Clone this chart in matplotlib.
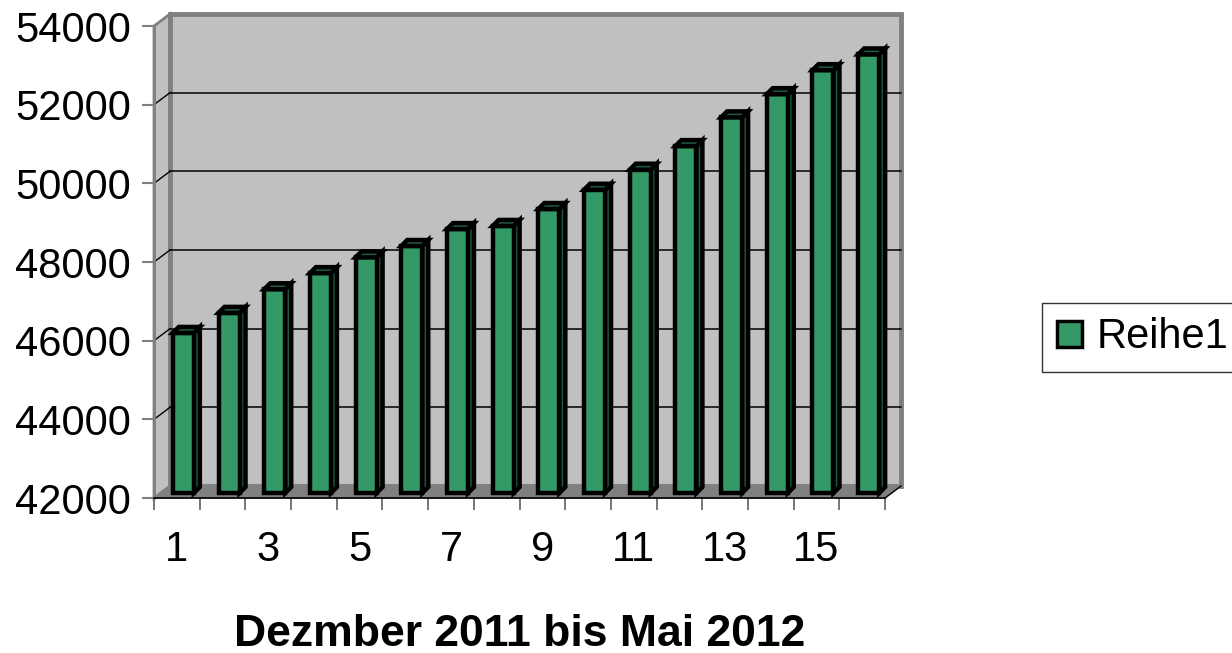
import matplotlib
matplotlib.use('Agg')
import matplotlib.pyplot as plt
from matplotlib.patches import Polygon, Rectangle
import numpy as np

# ---- data ----
categories = list(range(1, 17))
values = [46070, 46580, 47180, 47590, 47990, 48280, 48710, 48790,
          49220, 49710, 50220, 50820, 51550, 52140, 52750, 53150]
x_tick_labels = ['1', '3', '5', '7', '9', '11', '13', '15']
x_tick_pos = [1, 3, 5, 7, 9, 11, 13, 15]
y_ticks = [42000, 44000, 46000, 48000, 50000, 52000, 54000]
series_name = 'Reihe1'
x_title = 'Dezmber 2011 bis Mai 2012'

# ---- style ----
GREEN = '#339966'
SIDE = '#1f5a3c'
TOP = '#1f5a3c'
WALL = '#C0C0C0'
FLOOR = '#808080'
BORDER = '#808080'
BACK_OFF = (16, 12)     # pixel depth offset of back wall
BAR_OFF = (6.5, 5)      # pixel offset of bar front plane
BAR_DEPTH = (6, 6)      # pixel depth of bars
BAR_W = 0.46
FS = 30

plt.rcParams['font.family'] = ['Liberation Sans', 'DejaVu Sans']

W, H = 1232, 653
fig = plt.figure(figsize=(W / 100, H / 100), dpi=100)
fig.patch.set_facecolor('white')
ax = fig.add_axes([154 / W, 1 - 498 / H, (885 - 154) / W, (498 - 26) / H])
ax.set_xlim(0.5, len(categories) + 0.5)
ax.set_ylim(y_ticks[0], y_ticks[-1])
ax.patch.set_visible(False)
for s in ax.spines.values():
    s.set_visible(False)

inv = ax.transData.inverted()


def shifted(points, off):
    disp = ax.transData.transform(np.asarray(points, dtype=float))
    disp = disp + np.asarray(off, dtype=float)
    return inv.transform(disp)


x0, x1 = ax.get_xlim()
y0, y1 = ax.get_ylim()

# left wall
left_front = [(x0, y0), (x0, y1)]
left_back = shifted(left_front, BACK_OFF)
ax.add_patch(Polygon([left_front[0], left_front[1], left_back[1], left_back[0]],
                     closed=True, fc=WALL, ec=BORDER, lw=2, zorder=1, clip_on=False))
# back wall
back = shifted([(x0, y0), (x1, y0), (x1, y1), (x0, y1)], BACK_OFF)
ax.add_patch(Polygon(back, closed=True, fc=WALL, ec=BORDER, lw=3.5,
                     joinstyle='miter', zorder=1, clip_on=False))
# floor
fl_front = [(x0, y0), (x1, y0)]
fl_back = shifted(fl_front, BACK_OFF)
ax.add_patch(Polygon([fl_front[0], fl_front[1], fl_back[1], fl_back[0]],
                     closed=True, fc=FLOOR, ec=FLOOR, lw=1, zorder=1.5, clip_on=False))
# gridlines
for yv in y_ticks[1:-1]:
    b = shifted([(x0, yv), (x1, yv)], BACK_OFF)
    ax.plot(b[:, 0], b[:, 1], color='#000000', lw=1.1, zorder=1.2, clip_on=False)
    d = shifted([(x0, yv)], BACK_OFF)[0]
    ax.plot([x0, d[0]], [yv, d[1]], color='#000000', lw=1, zorder=1.2, clip_on=False)

# front axes lines
ax.plot([x0, x0], [y0, y1], color=BORDER, lw=2, zorder=3, clip_on=False)
ax.plot([x0, x1], [y0, y0], color='#000000', lw=1.2, zorder=3, clip_on=False)
rb = shifted([(x1, y0)], BACK_OFF)[0]
ax.plot([x1, rb[0]], [y0, rb[1]], color='#000000', lw=1, zorder=3, clip_on=False)

# bars
for c, v in zip(categories, values):
    fr = shifted([(c - BAR_W / 2, y0), (c + BAR_W / 2, y0),
                  (c + BAR_W / 2, v), (c - BAR_W / 2, v)], BAR_OFF)
    bk = shifted(fr, BAR_DEPTH)
    side = [fr[1], fr[2], bk[2], bk[1]]
    top = [fr[3], fr[2], bk[2], bk[3]]
    ax.add_patch(Polygon(side, closed=True, fc=SIDE, ec='black', lw=3.2,
                         joinstyle='miter', zorder=4, clip_on=False))
    ax.add_patch(Polygon(fr, closed=True, fc=GREEN, ec='black', lw=3.2,
                         joinstyle='miter', zorder=5, clip_on=False))
    ax.add_patch(Polygon(top, closed=True, fc=TOP, ec='black', lw=3.2,
                         joinstyle='miter', zorder=6, clip_on=False))

# ticks
ax.set_yticks(y_ticks)
ax.set_yticklabels([str(t) for t in y_ticks])
ax.tick_params(axis='y', direction='out', length=8.6, width=1.5, color=BORDER,
               labelsize=FS, pad=8)
ax.set_xticks(x_tick_pos)
ax.set_xticklabels(x_tick_labels)
ax.set_xticks(np.arange(0.5, len(categories) + 1, 1.0), minor=True)
ax.tick_params(axis='x', which='major', length=0, labelsize=FS, pad=23)
ax.tick_params(axis='x', which='minor', direction='out', length=8.6, width=1.2,
               color='#606060')

# title
fig.text(520 / W, 1 - 634 / H, x_title, ha='center', va='center',
         fontsize=32, fontweight='bold')

# legend
handle = Rectangle((0, 0), 1, 1, fc=GREEN, ec='black', lw=2.5)
leg = fig.legend(handles=[handle], labels=[series_name], loc='center left',
                 bbox_to_anchor=(1042 / W, 1 - 337.5 / H), frameon=True,
                 fancybox=False, shadow=False, framealpha=1,
                 edgecolor='#333333', fontsize=FS, handlelength=0.6,
                 handleheight=0.6, handletextpad=0.35, borderpad=0.35,
                 borderaxespad=0)
leg.get_frame().set_linewidth(1)

fig.savefig('out.png', dpi=100, facecolor='white')
